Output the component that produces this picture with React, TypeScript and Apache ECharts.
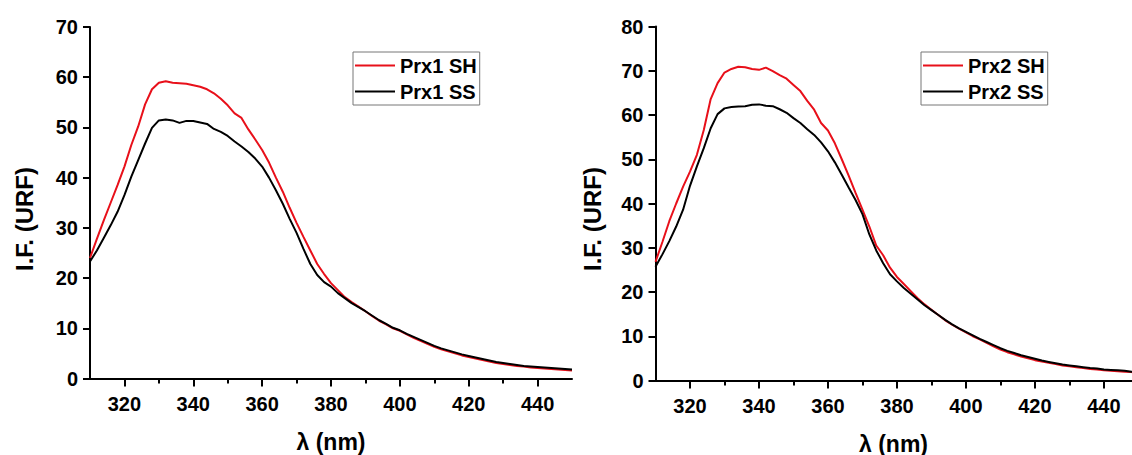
import React, { useEffect, useRef } from "react";
import * as echarts from "echarts";

const WAVELENGTHS = [
  310, 312, 314, 316, 318, 320, 322, 324, 326, 328, 330, 332, 334, 336, 338, 340, 342, 344, 346, 348,
  350, 352, 354, 356, 358, 360, 362, 364, 366, 368, 370, 372, 374, 376, 378, 380, 382, 384, 386, 388,
  390, 392, 394, 396, 398, 400, 402, 404, 406, 408, 410, 412, 414, 416, 418, 420, 422, 424, 426, 428,
  430, 432, 434, 436, 438, 440, 442, 444, 446, 448, 450,
];

const PRX1_SH = [
  24.0, 27.8, 31.5, 35.0, 38.5, 42.2, 46.5, 50.2, 54.6, 57.6, 58.9, 59.2, 58.9, 58.8, 58.7, 58.4, 58.1, 57.6, 56.8, 55.7,
  54.4, 52.8, 51.9, 49.6, 47.6, 45.5, 43.0, 40.0, 37.2, 34.0, 31.0, 28.2, 25.5, 22.8, 20.8, 19.0, 17.6, 16.2, 15.2, 14.3,
  13.4, 12.4, 11.5, 10.8, 10.0, 9.5, 8.8, 8.1, 7.5, 6.9, 6.3, 5.8, 5.4, 5.0, 4.6, 4.3, 4.0, 3.7, 3.4, 3.1,
  2.9, 2.7, 2.5, 2.4, 2.2, 2.1, 2.0, 1.9, 1.8, 1.7, 1.6,
];

const PRX1_SS = [
  23.3, 25.5, 28.0, 30.5, 33.2, 36.5, 40.2, 43.5, 46.8, 49.9, 51.4, 51.6, 51.4, 50.9, 51.3, 51.3, 51.0, 50.7, 49.7, 49.1,
  48.3, 47.2, 46.2, 45.1, 43.8, 42.2, 40.0, 37.5, 34.8, 31.8, 29.0, 25.8, 22.8, 20.6, 19.2, 18.3, 17.0, 16.0, 15.0, 14.2,
  13.4, 12.5, 11.6, 10.9, 10.1, 9.6, 8.9, 8.3, 7.7, 7.1, 6.5, 6.0, 5.6, 5.2, 4.8, 4.5, 4.2, 3.9, 3.6, 3.3,
  3.1, 2.9, 2.7, 2.5, 2.4, 2.3, 2.2, 2.1, 2.0, 1.9, 1.8,
];

const PRX2_SH = [
  26.8, 31.3, 36.0, 40.0, 43.8, 47.2, 51.0, 56.6, 63.6, 67.2, 69.6, 70.4, 70.9, 70.8, 70.4, 70.2, 70.7, 69.9, 69.0, 68.2,
  66.8, 65.4, 63.2, 61.2, 58.2, 56.5, 53.6, 50.0, 46.3, 42.4, 38.6, 34.8, 30.5, 28.3, 25.5, 23.4, 21.8, 20.2, 18.6, 17.2,
  16.0, 14.8, 13.6, 12.6, 11.7, 10.9, 10.0, 9.3, 8.5, 7.7, 7.0, 6.4, 5.9, 5.4, 5.0, 4.6, 4.3, 4.0, 3.7, 3.4,
  3.2, 3.0, 2.8, 2.6, 2.5, 2.3, 2.2, 2.1, 2.0, 1.9, 1.8,
];

const PRX2_SS = [
  25.7, 28.5, 31.5, 34.8, 38.6, 44.0, 48.4, 52.5, 57.0, 60.2, 61.5, 61.8, 61.9, 62.0, 62.3, 62.4, 62.1, 62.0, 61.3, 60.5,
  59.3, 58.2, 56.8, 55.5, 53.8, 51.8, 49.3, 46.5, 43.6, 40.8, 37.6, 33.0, 29.4, 26.5, 24.0, 22.4, 20.9, 19.6, 18.3, 17.0,
  15.9, 14.8, 13.7, 12.7, 11.8, 11.0, 10.2, 9.4, 8.7, 8.0, 7.3, 6.7, 6.2, 5.7, 5.3, 4.9, 4.5, 4.2, 3.9, 3.6,
  3.4, 3.2, 3.0, 2.8, 2.7, 2.5, 2.4, 2.3, 2.2, 2.0, 1.9,
];

const MAJOR_X = [320, 340, 360, 380, 400, 420, 440];

const SERIES_NAMES = ["Prx1 SH", "Prx1 SS", "Prx2 SH", "Prx2 SS"];
const X_TITLE = "λ (nm)";
const Y_TITLE = "I.F. (URF)";

const FONT = '"Liberation Sans", Arial, sans-serif';
const RED = "#e8101a";
const BLACK = "#000000";

function pairs(values: number[]) {
  return WAVELENGTHS.map((w, i) => [w, values[i]]);
}

// main x axis: ticks every 10 (short), labels every 20
function mainXAxis(gridIndex: number, max: number) {
  return {
    type: "value",
    gridIndex,
    position: "bottom",
    min: 310,
    max,
    interval: 10,
    axisLine: { show: true, onZero: false, lineStyle: { color: BLACK, width: 2 } },
    axisTick: { show: true, length: 5, lineStyle: { color: BLACK, width: 2 } },
    axisLabel: {
      margin: 15,
      fontSize: 20,
      fontWeight: "bold",
      color: BLACK,
      fontFamily: FONT,
      showMinLabel: false,
      showMaxLabel: false,
      formatter: (v: number) => (v % 20 === 0 ? String(v) : ""),
    },
    splitLine: { show: false },
    name: X_TITLE,
    nameLocation: "middle",
    nameGap: 53,
    nameTextStyle: { fontSize: 23, lineHeight: 20, fontWeight: "bold", color: BLACK, fontFamily: FONT },
  };
}

// overlay axis: longer ticks at the labelled values
function majorTickAxis(gridIndex: number, max: number) {
  return {
    type: "value",
    gridIndex,
    position: "bottom",
    min: 310,
    max,
    axisLine: { show: false, onZero: false },
    axisTick: { show: true, length: 8, lineStyle: { color: BLACK, width: 2 }, customValues: MAJOR_X },
    axisLabel: { show: false },
    splitLine: { show: false },
  };
}

function yAxis(gridIndex: number, max: number) {
  return {
    type: "value",
    gridIndex,
    min: 0,
    max,
    interval: 10,
    axisLine: { show: true, onZero: false, lineStyle: { color: BLACK, width: 2 } },
    axisTick: { show: true, length: 7, lineStyle: { color: BLACK, width: 2 } },
    axisLabel: { margin: 12, fontSize: 20, fontWeight: "bold", color: BLACK, fontFamily: FONT },
    splitLine: { show: false },
  };
}

function lineSeries(name: string, values: number[], xi: number, yi: number, color: string) {
  return {
    type: "line",
    name,
    xAxisIndex: xi,
    yAxisIndex: yi,
    data: pairs(values),
    symbol: "none",
    showSymbol: false,
    clip: true,
    lineStyle: { color, width: 2 },
    itemStyle: { color },
  };
}

function legend(names: string[], left: number) {
  return {
    data: names,
    orient: "vertical",
    left,
    top: 52,
    icon: "rect",
    itemWidth: 40,
    itemHeight: 2,
    itemGap: 3,
    padding: [2, 3, 2, 2],
    borderColor: "#777",
    borderWidth: 1,
    textStyle: { fontSize: 20, fontWeight: "bold", color: BLACK, fontFamily: FONT, lineHeight: 23 },
  };
}

function yTitle(x: number) {
  return {
    type: "text",
    x,
    y: 219,
    rotation: Math.PI / 2,
    style: {
      text: Y_TITLE,
      fontSize: 24,
      fontWeight: "bold",
      fill: BLACK,
      fontFamily: FONT,
      align: "center",
      verticalAlign: "middle",
    },
  };
}

export default function App() {
  const ref = useRef<HTMLDivElement>(null);
  useEffect(() => {
    document.body.style.margin = "0";
    if (!ref.current) return;
    const chart = echarts.init(ref.current, null, { renderer: "svg" });
    chart.setOption({
      animation: false,
      backgroundColor: "#ffffff",
      grid: [
        { left: 90, top: 27, width: 482, height: 351.5, containLabel: false, outerBoundsMode: "none" },
        { left: 655.5, top: 26.5, width: 476, height: 354, containLabel: false, outerBoundsMode: "none" },
      ],
      xAxis: [mainXAxis(0, 450), majorTickAxis(0, 450), mainXAxis(1, 448), majorTickAxis(1, 448)],
      yAxis: [yAxis(0, 70), yAxis(1, 80)],
      legend: [legend([SERIES_NAMES[0], SERIES_NAMES[1]], 353), legend([SERIES_NAMES[2], SERIES_NAMES[3]], 921)],
      graphic: [yTitle(24), yTitle(592)],
      series: [
        lineSeries(SERIES_NAMES[0], PRX1_SH, 0, 0, RED),
        lineSeries(SERIES_NAMES[1], PRX1_SS, 0, 0, BLACK),
        lineSeries(SERIES_NAMES[2], PRX2_SH, 2, 1, RED),
        lineSeries(SERIES_NAMES[3], PRX2_SS, 2, 1, BLACK),
      ],
    });
    return () => chart.dispose();
  }, []);
  return <div ref={ref} style={{ width: 1132, height: 455 }} />;
}
